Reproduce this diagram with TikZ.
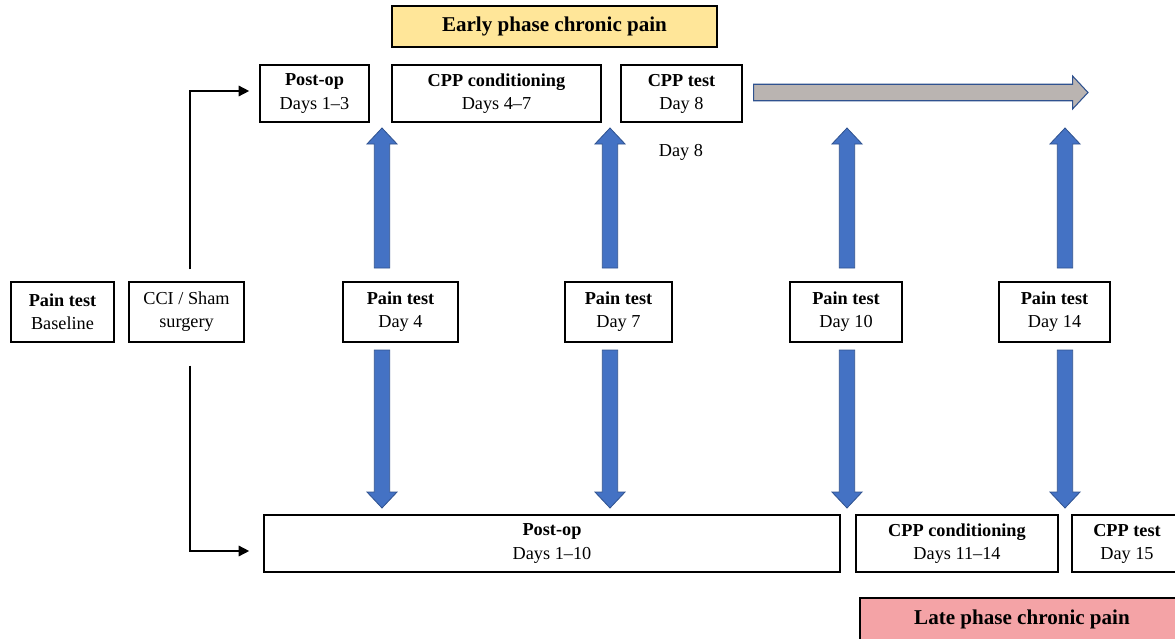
\documentclass[tikz,border=0pt]{standalone}
\usepackage{fontspec}
\setmainfont{Liberation Serif}
\usetikzlibrary{calc,arrows.meta}

\definecolor{earlyfill}{HTML}{FFE699}
\definecolor{latefill}{HTML}{F4A3A6}
\definecolor{bluefill}{HTML}{4472C4}
\definecolor{blueedge}{HTML}{2F528F}
\definecolor{greyfill}{HTML}{BAB4B1}

\tikzset{
  stage/.style={draw=black, line width=0.9pt, align=center, inner sep=0pt,
    font=\fontsize{13.7}{17.3}\selectfont},
  phase/.style={stage, font=\fontsize{15.8}{19}\selectfont\bfseries},
  route/.style={line width=2.1pt, -{Triangle[length=8pt,width=7.5pt]}},
  blueblk/.style={fill=bluefill, draw=blueedge, line width=0.6pt},
  greyblk/.style={fill=greyfill, draw=blueedge, line width=0.8pt},
}

% style, start, tip, half shaft, half head, head length
\newcommand{\blockarrow}[6]{%
  \coordinate (hb) at ($(#3)!#6!(#2)$);
  \filldraw[#1] ($(#2)!#4!90:(#3)$) -- ($(hb)!#4!90:(#3)$) -- ($(hb)!#5!90:(#3)$)
    -- (#3) -- ($(hb)!#5!-90:(#3)$) -- ($(hb)!#4!-90:(#3)$) -- ($(#2)!#4!-90:(#3)$) -- cycle;}

\begin{document}
\begin{tikzpicture}[x=0.75pt, y=-0.75pt]

    \useasboundingbox (0,0) rectangle (1175,639);
    \clip (0,0) rectangle (1175,639);

    \node[phase, fill=earlyfill, minimum width=243.75pt, minimum height=30.75pt] (early) at (554.5,26.5) {Early phase chronic pain};

    \node[stage, minimum width=81.75pt, minimum height=42.75pt] (post1) at (314.5,93.5) {\textbf{Post-op}\\Days 1--3};
    \node[stage, minimum width=156.75pt, minimum height=42.75pt] (cond1) at (496.5,93.5) {\textbf{CPP conditioning}\\Days 4--7};
    \node[stage, minimum width=90.75pt, minimum height=42.75pt] (test1) at (681.5,93.5) {\textbf{CPP test}\\Day 8};
    \node[font=\fontsize{13.7}{17.3}\selectfont] (day8) at (681,152) {Day 8};

    \node[stage, minimum width=77.25pt, minimum height=45pt] (base) at (62.5,312) {\textbf{Pain test}\\Baseline};
    \node[stage, minimum width=86.25pt, minimum height=45pt] (cci) at (186.5,312) {CCI / Sham\\surgery};
    \node[stage, minimum width=86.25pt, minimum height=45pt] (p4) at (400.5,312) {\textbf{Pain test}\\Day 4};
    \node[stage, minimum width=80.25pt, minimum height=45pt] (p7) at (618.5,312) {\textbf{Pain test}\\Day 7};
    \node[stage, minimum width=84pt, minimum height=45pt] (p10) at (846,312) {\textbf{Pain test}\\Day 10};
    \node[stage, minimum width=83.25pt, minimum height=45pt] (p14) at (1054.5,312) {\textbf{Pain test}\\Day 14};

    \node[stage, minimum width=432pt, minimum height=42.75pt] (post2) at (552,543.5) {\textbf{Post-op}\\Days 1--10};
    \node[stage, minimum width=151.5pt, minimum height=42.75pt] (cond2) at (957,543.5) {\textbf{CPP conditioning}\\Days 11--14};
    \node[stage, minimum width=82.5pt, minimum height=42.75pt] (test2) at (1127,543.5) {\textbf{CPP test}\\Day 15};

    \node[phase, fill=latefill, minimum width=243pt, minimum height=31.5pt] (late) at (1022,619) {Late phase chronic pain};

    \draw[route] ($(cci.north)+(3.5,-12)$) |- ($(post1.west)+(-10,-2.5)$);
    \draw[route] ($(cci.south)+(3.5,23)$) |- ($(post2.west)+(-14,7.5)$);

    \coordinate (greyA) at ($(test1.east)+(11,-1)$);
    \coordinate (greyB) at (1088,92.5);
    \blockarrow{greyblk}{greyA}{greyB}{6.2pt}{12.4pt}{11.6pt}

    \foreach \x/\n in {382/4, 610/7, 847/10, 1065/14} {
        \coordinate (upA\n) at (\x,268);
        \coordinate (upB\n) at (\x,128);
        \coordinate (dnA\n) at (\x,350);
        \coordinate (dnB\n) at (\x,508);
        \blockarrow{blueblk}{upA\n}{upB\n}{5.8pt}{11.3pt}{12pt}
        \blockarrow{blueblk}{dnA\n}{dnB\n}{5.8pt}{11.3pt}{12pt}
    }

\end{tikzpicture}
\end{document}
